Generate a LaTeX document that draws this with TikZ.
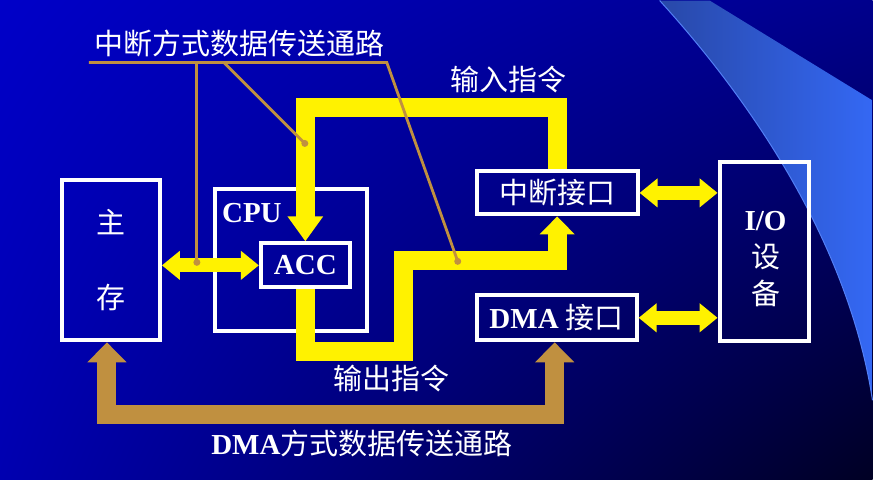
\documentclass[tikz,border=0pt]{standalone}
\usepackage{fontspec}
\setmainfont{Liberation Serif}
\newfontfamily\cjk{Noto Sans CJK SC}
\usetikzlibrary{arrows.meta,shadings}
\definecolor{bgtl}{RGB}{0,0,200}
\definecolor{bgtr}{RGB}{0,0,140}
\definecolor{bgbl}{RGB}{0,0,176}
\definecolor{bgbr}{RGB}{0,0,36}
\definecolor{swl}{RGB}{40,72,168}
\definecolor{swr}{RGB}{52,104,244}
\definecolor{dmabrown}{RGB}{192,144,64}
\begin{document}
\begin{tikzpicture}[x=1pt, y=-1pt, line join=miter,
		box/.style={draw=white, line width=4pt, inner sep=0pt, text=white},
		lbl/.style={text=white, inner sep=0pt, font=\cjk\fontsize{29}{34}\selectfont},
		ybus/.style={draw=yellow, line width=19pt},
		ydbl/.style={draw=yellow, line width=14pt, {Triangle[width=28pt,length=18pt]}-{Triangle[width=28pt,length=18pt]}},
		dmabus/.style={draw=dmabrown, line width=19pt, {Triangle[width=38pt,length=20pt]}-{Triangle[width=38pt,length=20pt]}},
		note/.style={draw=dmabrown, line width=2.8pt}]
	% background
	\shade[upper left=bgtl, upper right=bgtr, lower left=bgbl, lower right=bgbr] (0,0) rectangle (873,479);
	\shade[left color=swl, right color=swr] (660,0) .. controls (760,110) and (850,250) .. (873,400) -- (873,100) -- (710,0) -- cycle;
	\draw[swr!85!white, line width=1pt] (660,0) .. controls (760,110) and (850,250) .. (873,400);
	% boxes
	\node[box, minimum width=98, minimum height=160, align=center, font=\cjk\fontsize{29}{75}\selectfont] (mem) at (111,260) {主\\存};
	\node[box, minimum width=152, minimum height=142] (cpu) at (291,260) {};
	\node[text=white, inner sep=0pt, font=\bfseries\fontsize{29}{34}\selectfont] (cpulbl) at (252,213) {CPU};
	\node[box, minimum width=89, minimum height=44, font=\bfseries\fontsize{29}{34}\selectfont] (acc) at (305.5,265) {ACC};
	\node[box, minimum width=161, minimum height=43, font=\cjk\fontsize{29}{34}\selectfont] (zd) at (557.5,192.5) {中断接口};
	\node[box, minimum width=160, minimum height=45, font=\fontsize{29}{34}\selectfont] (dma) at (557,317.5) {\textbf{DMA} {\cjk 接口}};
	\node[box, minimum width=89, minimum height=179] (io) at (764.5,251.5) {};
	\node[text=white, inner sep=0pt, align=center, font=\fontsize{29}{37}\selectfont] (iolbl) at (766,259) {\textbf{I/O}\\{\cjk 设}\\{\cjk 备}};
	% labels
	\node[lbl] (tzd) at (240,43) {中断方式数据传送通路};
	\node[lbl] (tin) at (509,79) {输入指令};
	\node[lbl] (tout) at (392,378) {输出指令};
	\node[lbl, font=\fontsize{29}{34}\selectfont] (tdma) at (362,443) {\textbf{DMA}{\cjk 方式数据传送通路}};
	% paths
	\draw[ybus, -{Triangle[width=34pt,length=25pt]}] (zd.north) -- ++(0,-62) -| (acc.north);
	\draw[ybus, -{Triangle[width=34pt,length=18pt]}] (acc.south) |- ++(98,62) |- ++(154,-91) -- (zd.south);
	\draw[ydbl] (acc.west -| mem.east) -- (acc.west);
	\draw[ydbl] (zd.east) -- (zd.east -| io.west);
	\draw[ydbl] (dma.east) -- (dma.east -| io.west);
	\draw[dmabus] ([xshift=-4pt]mem.south) |- (555,414) -- ([xshift=-2pt]dma.south);
	% notes
	\coordinate (tl) at (89,62);
	\coordinate (tr) at (387,62);
	\draw[note] (tl) -- (tr) -- (458,261);
	\draw[note] (197,62) -- (197,262);
	\draw[note] (224,62) -- (305,143);
	\fill[dmabrown] (458,261) circle (3.5) (197,262) circle (3.5) (305,143) circle (3.5);
\end{tikzpicture}
\end{document}
